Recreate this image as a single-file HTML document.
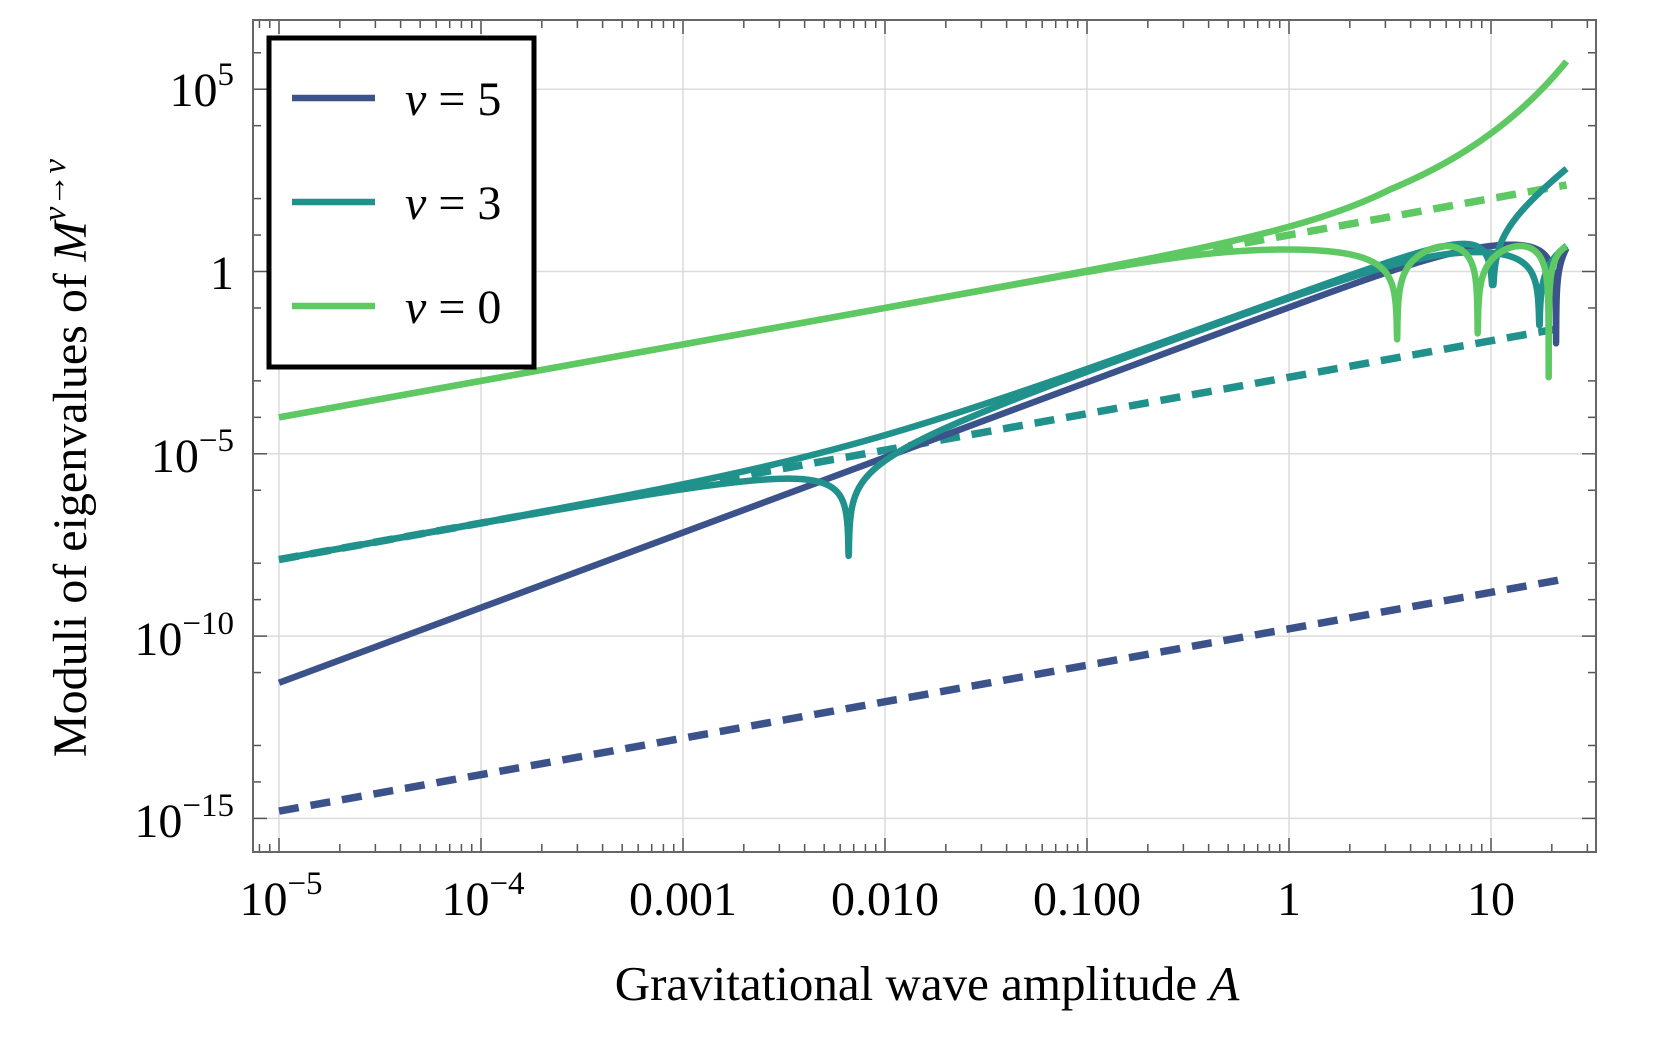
<!DOCTYPE html>
<html><head><meta charset="utf-8">
<style>
html,body{margin:0;padding:0;background:#fff;}
svg{display:block;font-family:"Liberation Serif",serif;}
</style></head>
<body>
<svg id="s" width="1661" height="1038" viewBox="0 0 1661 1038" xmlns="http://www.w3.org/2000/svg">
<defs><clipPath id="cp"><rect x="253" y="20" width="1343" height="832"/></clipPath></defs>
<g id="grid" stroke="#dcdcdc" stroke-width="1.5"></g>
<g id="ticks" stroke="#555" stroke-width="1.5"></g>
<g id="curves" clip-path="url(#cp)" fill="none" stroke-linejoin="round"></g>
<rect x="253" y="20" width="1343" height="832" fill="none" stroke="#666" stroke-width="2"/>
<!-- legend -->
<rect x="269" y="38" width="265" height="329" fill="#fff" stroke="#000" stroke-width="5"/>
<line x1="292" y1="98" x2="375" y2="98" stroke="#3b528b" stroke-width="6.5"/>
<line x1="292" y1="202" x2="375" y2="202" stroke="#21918c" stroke-width="6.5"/>
<line x1="292" y1="306" x2="375" y2="306" stroke="#5ec962" stroke-width="6.5"/>
<g font-size="48" fill="#000">
<text x="405" y="115"><tspan font-style="italic">ν</tspan> = 5</text>
<text x="405" y="219"><tspan font-style="italic">ν</tspan> = 3</text>
<text x="405" y="323"><tspan font-style="italic">ν</tspan> = 0</text>
</g>
<!-- y tick labels -->
<g font-size="48" fill="#000" text-anchor="end">
<text x="234" y="106">10<tspan font-size="33" dy="-21">5</tspan></text>
<text x="234" y="289">1</text>
<text x="234" y="472">10<tspan font-size="33" dy="-21">−5</tspan></text>
<text x="234" y="655">10<tspan font-size="33" dy="-21">−10</tspan></text>
<text x="234" y="837">10<tspan font-size="33" dy="-21">−15</tspan></text>
</g>
<!-- x tick labels -->
<g font-size="48" fill="#000" text-anchor="middle">
<text x="281" y="915">10<tspan font-size="33" dy="-21">−5</tspan></text>
<text x="483" y="915">10<tspan font-size="33" dy="-21">−4</tspan></text>
<text x="683" y="915">0.001</text>
<text x="885" y="915">0.010</text>
<text x="1087" y="915">0.100</text>
<text x="1289" y="915">1</text>
<text x="1491" y="915">10</text>
</g>
<text x="927" y="1000" font-size="49" text-anchor="middle">Gravitational wave amplitude <tspan font-style="italic">A</tspan></text>
<text transform="translate(86,458) rotate(-90)" font-size="48" text-anchor="middle">Moduli of eigenvalues of <tspan font-style="italic">M</tspan><tspan font-size="33" dy="-21" font-style="italic">ν→ν</tspan></text>
</svg>
<script>
(function(){
var NS="http://www.w3.org/2000/svg";
function px(X){return 279+202*(X+5);}
function py(Y){return 271.5-36.46*Y;}
var L=253,R=1596,T=20,B=852;
var grid=document.getElementById('grid'),ticks=document.getElementById('ticks'),curves=document.getElementById('curves');
function line(g,x1,y1,x2,y2){var l=document.createElementNS(NS,'line');l.setAttribute('x1',x1);l.setAttribute('y1',y1);l.setAttribute('x2',x2);l.setAttribute('y2',y2);g.appendChild(l);}
for(var d=-6;d<=1;d++){
  for(var m=1;m<=9;m++){
    var X=d+Math.log10(m);var x=px(X);
    if(x<L||x>R)continue;
    var len=(m==1)?14:8;
    if(m==1)line(grid,x,T,x,B);
    line(ticks,x,B,x,B-len);line(ticks,x,T,x,T+len);
  }
}
[5,0,-5,-10,-15].forEach(function(Y){var y=py(Y);line(grid,L,y,R,y);line(ticks,L,y,L+14,y);line(ticks,R,y,R-14,y);});
[6,4,2,1,-1,-3,-4,-6,-8,-9,-11,-13,-14].forEach(function(Y){var y=py(Y);line(ticks,L,y,L+8,y);line(ticks,R,y,R-8,y);});
var Xend=1.374, zerosX=[-2.18,Math.log10(3.43),Math.log10(8.59),Math.log10(19.3),Math.log10(10.2),Math.log10(17.4),Math.log10(21)];
function sample(f,x0,x1){
  var xs=[];for(var X=x0;X<=x1+1e-9;X+=0.001)xs.push(X);
  zerosX.forEach(function(z){if(z>x0&&z<x1)xs.push(z);});
  xs.sort(function(a,b){return a-b;});
  var s='';
  xs.forEach(function(X,i){var Y=f(X);s+=(i?'L':'M')+px(X).toFixed(2)+' '+py(Y).toFixed(2);});
  return s;
}
function add(d,color,w,dash){var p=document.createElementNS(NS,'path');p.setAttribute('d',d);p.setAttribute('stroke',color);p.setAttribute('stroke-width',w);if(dash){p.setAttribute('stroke-dasharray',dash);}curves.appendChild(p);}
function lgz(v,X,zs){
  var y=(v>0)?Math.log10(v):-99;
  for(var i=0;i<zs.length;i++){if(Math.abs(X-zs[i][0])<0.12&&y<zs[i][1])y=zs[i][1];}
  return y;
}
var BLUE='#3b528b',TEAL='#21918c',GREEN='#5ec962';
var SW=6.5, DW=7.5, DA='20 12';
add(sample(function(X){return X-9.8;},-5,Xend),BLUE,DW,DA);
add(sample(function(X){return X-2.9;},-5,Xend),TEAL,DW,DA);
add(sample(function(X){return X+1;},-1,Xend),GREEN,DW,DA);
add(sample(function(X){var A=Math.pow(10,X);var e=Math.pow(10,2.06*X-0.98);e=e/(1+e/10);return lgz(e*Math.abs(1-Math.pow(A/21,3.4)),X,[[Math.log10(21),-1.97]]);},-5,Xend),BLUE,SW);
add(sample(function(X){var A=Math.pow(10,X);var v=Math.pow(10,X-2.9)+Math.pow(10,2*X-0.7)*Math.abs(1-Math.pow(A/10.2,2.3));return lgz(v,X,[[Math.log10(10.2),-0.37]]);},-5,Xend),TEAL,SW);
add(sample(function(X){var A=Math.pow(10,X);var e=Math.pow(10,2*X-0.72);e=e/(1+e/7);var v=Math.abs(Math.pow(10,X-2.9)-e*(1-Math.pow(A/17.4,1.86)));return lgz(v,X,[[-2.18,-7.8],[Math.log10(17.4),-1.47]]);},-5,Xend),TEAL,SW);
var fp=[[-1,-1.64],[-0.5,-1.15],[0,-0.64],[0.5,-0.125],[1,0.253],[1.374,0.53]];
function lf(X){if(X<=-1)return -1.64+(X+1);for(var i=0;i<fp.length-1;i++){if(X<=fp[i+1][0]){var t=(X-fp[i][0])/(fp[i+1][0]-fp[i][0]);return fp[i][1]+t*(fp[i+1][1]-fp[i][1]);}}return fp[fp.length-1][1];}
add(sample(function(X){return X+1+Math.pow(10,lf(X));},-5,Xend),GREEN,SW);
var th=[[0,0],[3.43,Math.PI/2],[8.59,1.5*Math.PI],[19.3,2.5*Math.PI],[30,3.5*Math.PI]];
function theta(A){for(var i=0;i<th.length-1;i++){if(A<=th[i+1][0]){var t=(A-th[i][0])/(th[i+1][0]-th[i][0]);return th[i][1]+t*(th[i+1][1]-th[i][1]);}}return th[th.length-1][1];}
add(sample(function(X){var A=Math.pow(10,X);var E=10*A/Math.sqrt(1+4*A*A);return lgz(E*Math.abs(Math.cos(theta(A))),X,[[Math.log10(3.43),-1.86],[Math.log10(8.59),-1.7],[Math.log10(19.3),-2.9]]);},-5,Xend),GREEN,SW);
})();
</script>
</body></html>
